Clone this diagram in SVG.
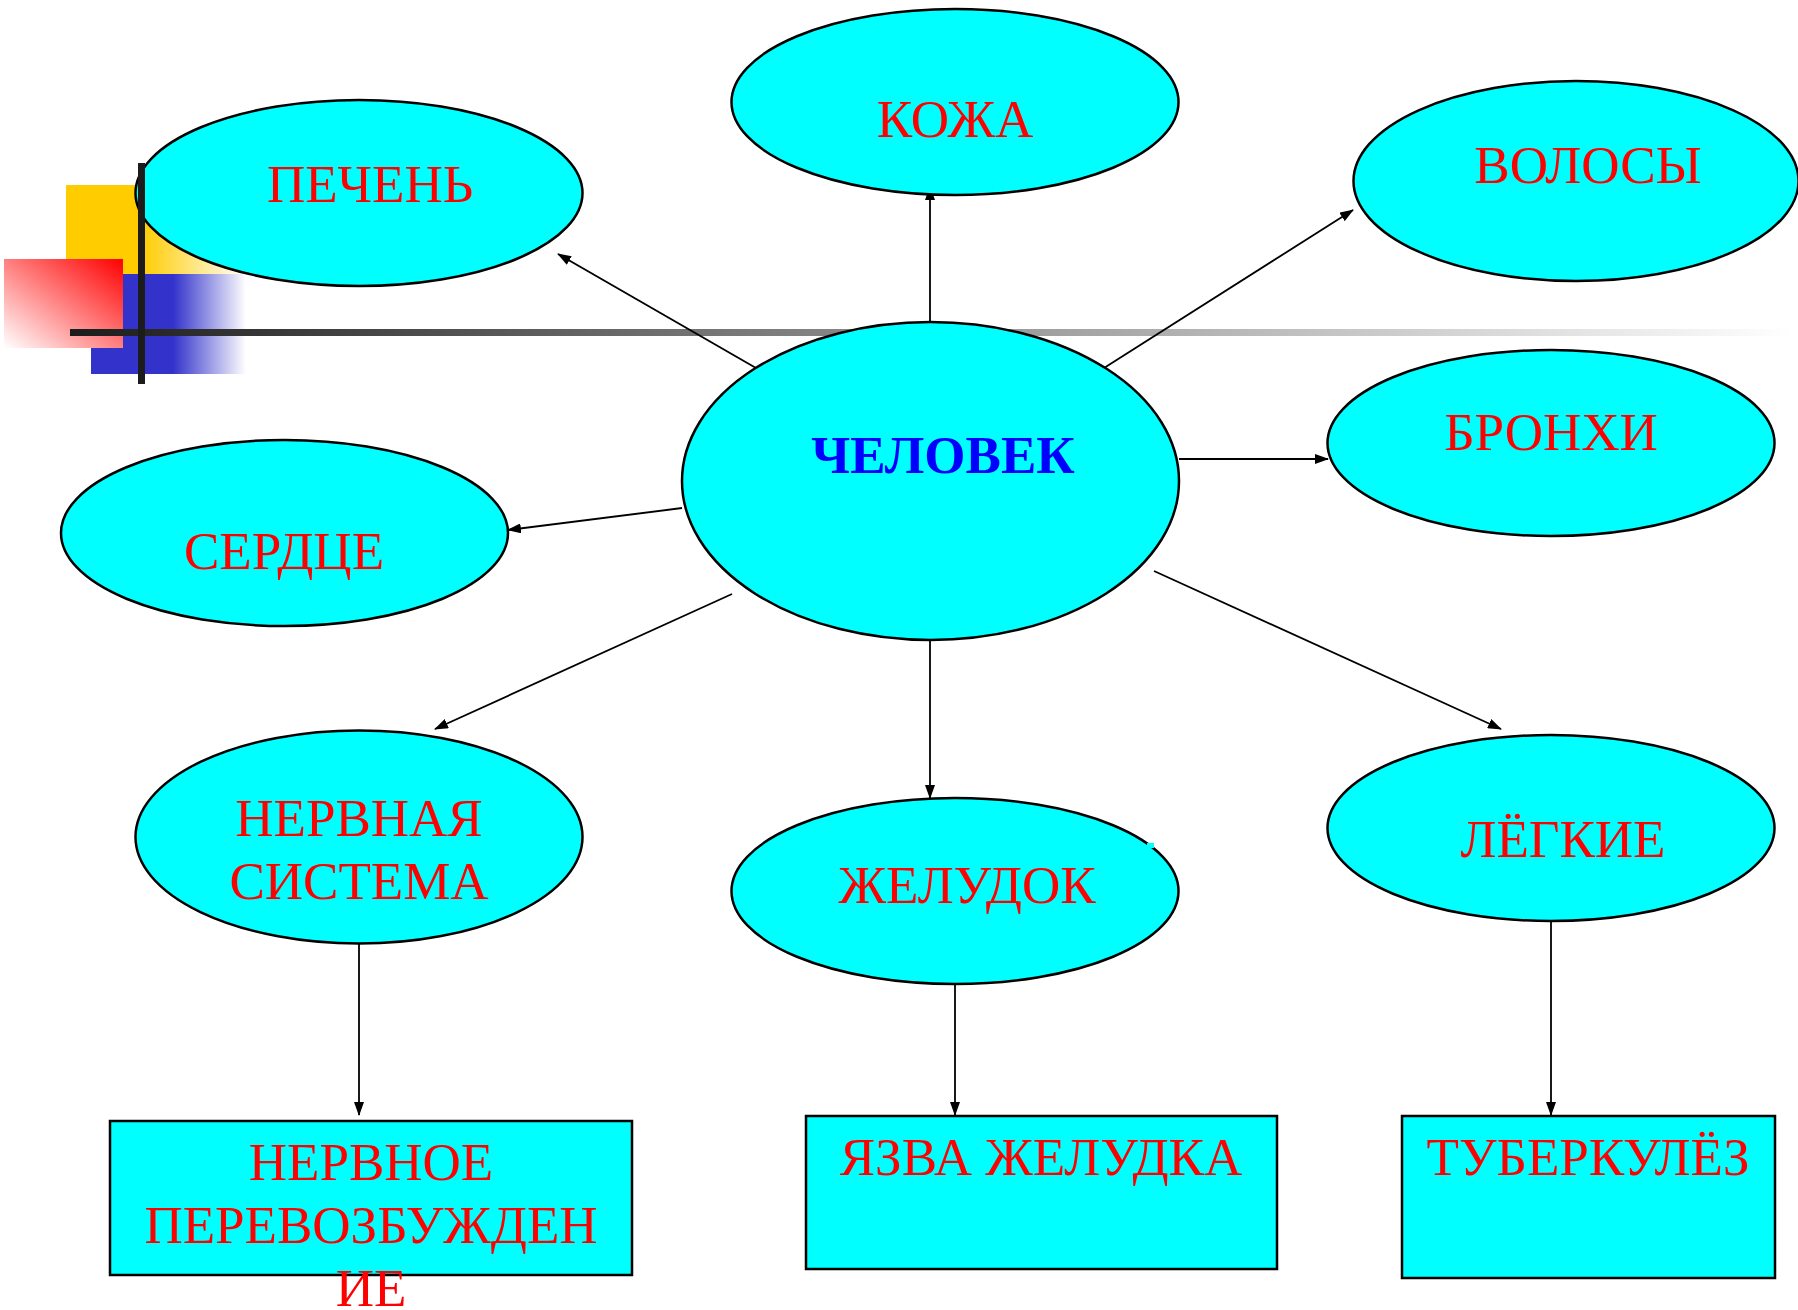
<svg xmlns="http://www.w3.org/2000/svg" width="1798" height="1310" viewBox="0 0 1798 1310">
<style>
.node{fill:#00FFFF;stroke:#000;stroke-width:2.5}
.lbl{font-family:"Liberation Serif","Times New Roman",serif;font-size:53px;fill:#FF0000;text-anchor:middle}
.main{font-family:"Liberation Serif","Times New Roman",serif;font-size:53px;font-weight:bold;fill:#0000FF;text-anchor:middle}
.conn line{stroke:#000;stroke-width:1.8;marker-end:url(#arr)}
</style>
<defs>
<marker id="arr" markerUnits="userSpaceOnUse" markerWidth="14" markerHeight="10" refX="13" refY="5" orient="auto">
<path d="M0,0 L14,5 L0,10 Z" fill="#000"/>
</marker>
<linearGradient id="gy" x1="0" y1="0" x2="1" y2="0">
<stop offset="0.42" stop-color="#FFCC00"/><stop offset="1" stop-color="#FFFFFF"/>
</linearGradient>
<linearGradient id="gb" x1="0" y1="0" x2="1" y2="0">
<stop offset="0.53" stop-color="#3333CC"/><stop offset="1" stop-color="#FFFFFF"/>
</linearGradient>
<linearGradient id="gr" x1="0" y1="1" x2="1" y2="0">
<stop offset="0" stop-color="#FFFFFF"/><stop offset="1" stop-color="#FF0000"/>
</linearGradient>
<linearGradient id="gh" x1="0" y1="0" x2="1" y2="0">
<stop offset="0" stop-color="#1C1C1C"/><stop offset="0.35" stop-color="#707070"/><stop offset="1" stop-color="#FFFFFF"/>
</linearGradient>
</defs>
<rect width="1798" height="1310" fill="#FFFFFF"/>
<g id="decor">
<rect x="66" y="185" width="180" height="89" fill="url(#gy)"/>
<rect x="91" y="274" width="155" height="100" fill="url(#gb)"/>
<rect x="4" y="259" width="119" height="89" fill="url(#gr)"/>
<rect x="70" y="329" width="1722" height="7" fill="url(#gh)"/>
</g>
<g id="connectors" class="conn">
<line x1="756" y1="368" x2="558" y2="254"/>
<line x1="930" y1="322" x2="930" y2="187"/>
<line x1="1104" y1="368" x2="1353" y2="210"/>
<line x1="1179" y1="459" x2="1328" y2="459"/>
<line x1="682" y1="508" x2="508" y2="530"/>
<line x1="732" y1="594" x2="435" y2="729"/>
<line x1="930" y1="640" x2="930" y2="798"/>
<line x1="1154" y1="571" x2="1501" y2="729"/>
<line x1="359" y1="935" x2="359" y2="1115"/>
<line x1="955" y1="980" x2="955" y2="1115"/>
<line x1="1551" y1="912" x2="1551" y2="1115"/>
</g>
<g id="n-kozha"><ellipse class="node" cx="955" cy="102" rx="223.5" ry="93"/><text class="lbl" x="955" y="137">КОЖА</text></g>
<g id="n-pechen"><ellipse class="node" cx="359" cy="193" rx="223.5" ry="93"/><text class="lbl" x="370" y="202">ПЕЧЕНЬ</text></g>
<g id="n-volosy"><ellipse class="node" cx="1576" cy="181" rx="222.5" ry="100"/><text class="lbl" x="1588" y="183">ВОЛОСЫ</text></g>
<g id="n-bronhi"><ellipse class="node" cx="1551" cy="443" rx="223.5" ry="93"/><text class="lbl" x="1551" y="450">БРОНХИ</text></g>
<g id="n-chelovek"><ellipse class="node" cx="930.5" cy="481" rx="248.5" ry="159"/><text class="main" x="943" y="473">ЧЕЛОВЕК</text></g>
<g id="n-serdce"><ellipse class="node" cx="284.5" cy="533" rx="223.5" ry="93"/><text class="lbl" x="284" y="569">СЕРДЦЕ</text></g>
<g id="n-nervnaya"><ellipse class="node" cx="359" cy="837" rx="223.5" ry="106.5"/><text class="lbl" x="359" y="836">НЕРВНАЯ</text><text class="lbl" x="359" y="899">СИСТЕМА</text></g>
<g id="n-zheludok"><ellipse class="node" cx="955" cy="891" rx="223.5" ry="93"/><rect x="1147" y="843" width="7" height="5" fill="#00FFFF"/><text class="lbl" x="967" y="903">ЖЕЛУДОК</text></g>
<g id="n-legkie"><ellipse class="node" cx="1551" cy="828" rx="223.5" ry="93"/><text class="lbl" x="1563" y="857">ЛЁГКИЕ</text></g>
<g id="n-nervnoe"><rect class="node" x="110" y="1121" width="522" height="154"/><text class="lbl" x="371" y="1180">НЕРВНОЕ</text><text class="lbl" x="371" y="1243">ПЕРЕВОЗБУЖДЕН</text><text class="lbl" x="371" y="1306">ИЕ</text></g>
<g id="n-yazva"><rect class="node" x="806" y="1116" width="471" height="153"/><text class="lbl" x="1041" y="1175">ЯЗВА ЖЕЛУДКА</text></g>
<g id="n-tuberkulez"><rect class="node" x="1402" y="1116" width="373" height="162"/><text class="lbl" x="1588" y="1175">ТУБЕРКУЛЁЗ</text></g>
<g id="decor-top"><rect x="138" y="163" width="7" height="221" fill="#1C1C1C"/></g>
</svg>
